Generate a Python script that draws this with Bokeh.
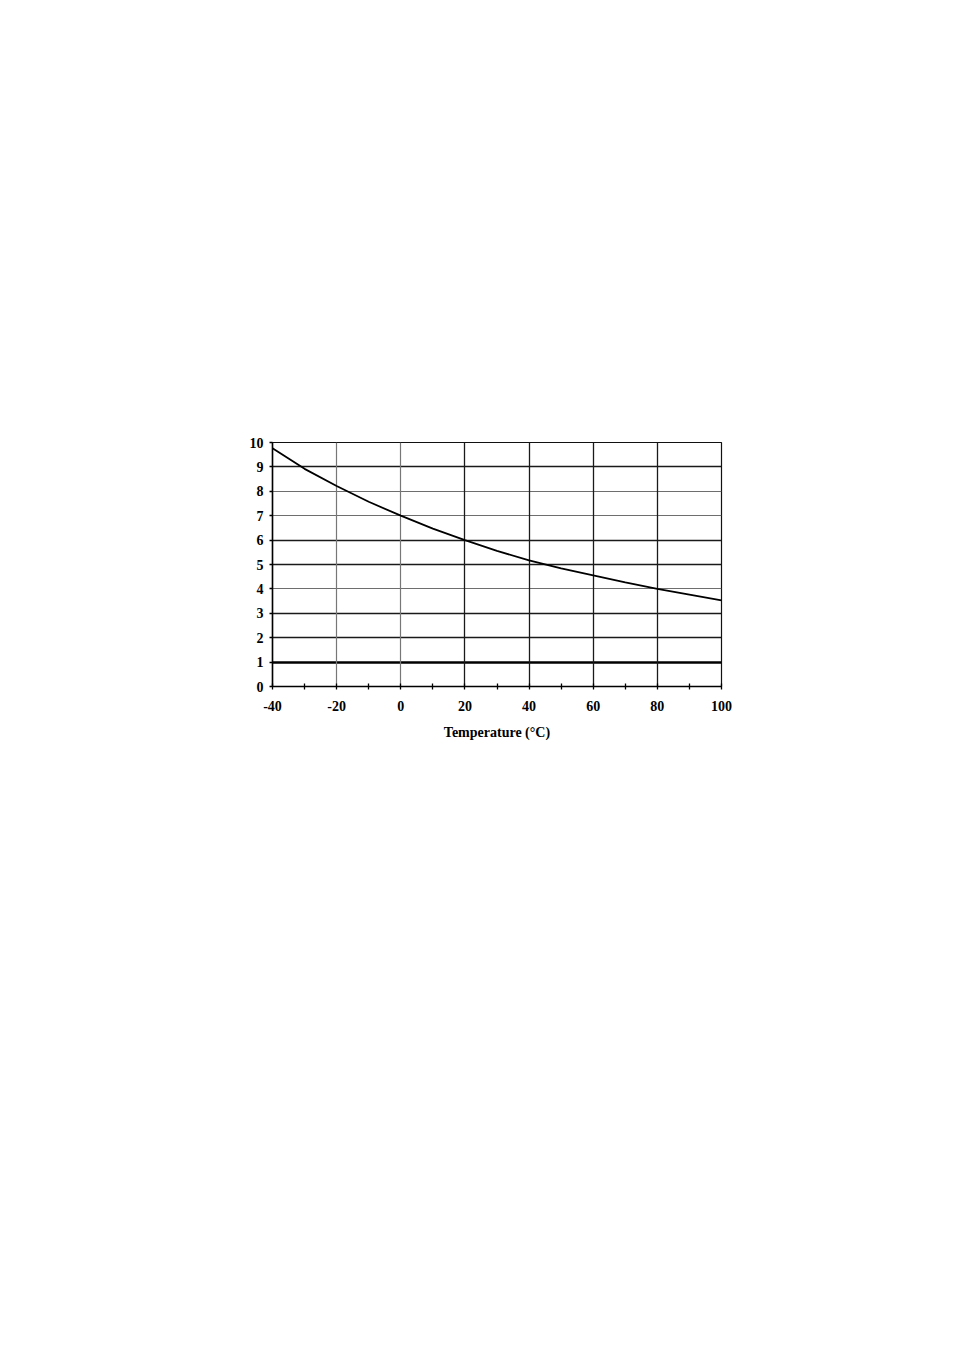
from bokeh.plotting import figure
from bokeh.models import Range1d, FixedTicker, Grid
from bokeh.embed import file_html
from bokeh.resources import INLINE

# data
temperature = [-40, -30, -20, -10, 0, 10, 20, 30, 40, 50, 60, 70, 80, 90, 100]
values = [9.76, 8.92, 8.22, 7.57, 7.0, 6.47, 6.0, 5.56, 5.17, 4.84, 4.55, 4.27, 4.0, 3.77, 3.53]
x_major = [-40, -20, 0, 20, 40, 60, 80, 100]
x_minor = [-30, -10, 10, 30, 50, 70, 90]
x_tick_labels = ["-40", "-20", "0", "20", "40", "60", "80", "100"]
y_ticks = [0, 1, 2, 3, 4, 5, 6, 7, 8, 9, 10]
x_label = "Temperature (°C)"

FONT = "Liberation Serif"

p = figure(output_backend="svg", toolbar_location=None,
           frame_width=449, frame_height=244,
           min_border_left=272, min_border_top=442,
           min_border_right=20, min_border_bottom=70,
           x_range=Range1d(-40, 100), y_range=Range1d(0, 10))
p.background_fill_color = "white"
p.border_fill_color = "white"
p.outline_line_color = "#111111"
p.outline_line_width = 1.2

p.xgrid.visible = False
p.ygrid.visible = False

# grid lines with the scanned look (varying weights)
grid_styles = [
    (1, [1], "#000000", 2.4),
    (1, [2, 3, 5, 6, 9], "#1a1a1a", 1.4),
    (1, [4, 7, 8], "#6e6e6e", 1.1),
    (0, [-20, 0], "#777777", 1.2),
    (0, [20, 40, 60, 80], "#1a1a1a", 1.3),
]
for dim, ticks, color, w in grid_styles:
    g = Grid(dimension=dim, ticker=FixedTicker(ticks=ticks),
             grid_line_color=color, grid_line_width=w)
    p.add_layout(g)

p.line(temperature, values, line_color="black", line_width=1.8)

# x axis
xa = p.xaxis[0]
xa.ticker = FixedTicker(ticks=x_major, minor_ticks=x_minor)
xa.major_label_overrides = {t: s for t, s in zip(x_major, x_tick_labels)}
xa.axis_label = x_label
xa.axis_label_text_font = FONT
xa.axis_label_text_font_style = "bold"
xa.axis_label_text_font_size = "14px"
xa.axis_label_text_color = "black"
xa.axis_label_standoff = 11
xa.major_label_text_font = FONT
xa.major_label_text_font_style = "bold"
xa.major_label_text_font_size = "14px"
xa.major_label_text_color = "black"
xa.major_label_standoff = 11
xa.axis_line_color = "black"
xa.axis_line_width = 1.5
xa.major_tick_in = 3
xa.major_tick_out = 3
xa.minor_tick_in = 3
xa.minor_tick_out = 3
xa.major_tick_line_color = "black"
xa.minor_tick_line_color = "black"
xa.major_tick_line_width = 1.3
xa.minor_tick_line_width = 1.3

# y axis
ya = p.yaxis[0]
ya.ticker = FixedTicker(ticks=y_ticks)
ya.major_label_text_font = FONT
ya.major_label_text_font_style = "bold"
ya.major_label_text_font_size = "14px"
ya.major_label_text_color = "black"
ya.major_label_standoff = 6
ya.axis_line_color = "black"
ya.axis_line_width = 1.5
ya.major_tick_in = 0
ya.major_tick_out = 3
ya.minor_tick_line_color = None
ya.major_tick_line_color = "black"
ya.major_tick_line_width = 1.3

open("out.html", "w").write(file_html(p, INLINE))
